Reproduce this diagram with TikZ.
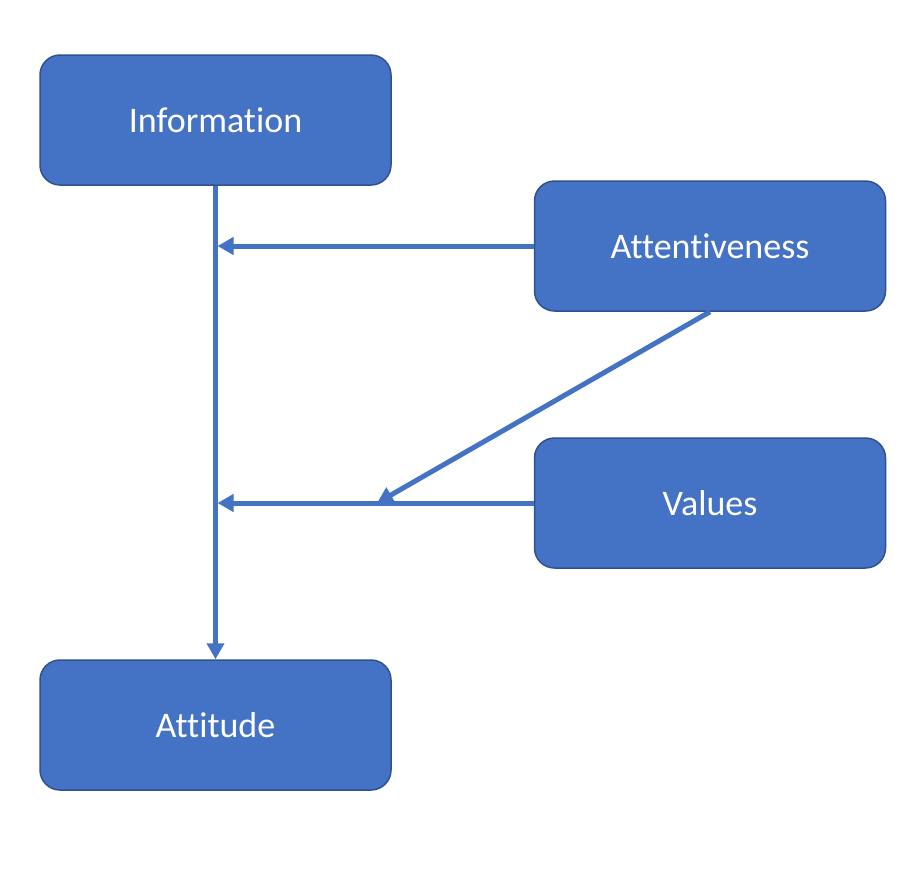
\documentclass[tikz,border=0pt]{standalone}
\usepackage{fontspec}
\setmainfont[RawFeature={-liga;-clig}]{Carlito}
\usetikzlibrary{arrows.meta}
\definecolor{boxfill}{HTML}{4472C4}
\definecolor{boxline}{HTML}{2F528F}
\definecolor{arrowc}{HTML}{4472C4}
\begin{document}
\begin{tikzpicture}[x=1pt,y=-1pt,
  box/.style={draw=boxline,line width=1.5pt,fill=boxfill,rounded corners=20pt,
    minimum width=351pt,minimum height=130pt,inner sep=0pt,
    text=white,font=\fontsize{36}{43}\selectfont},
  conn/.style={draw=arrowc,line width=5pt,-{Triangle[length=16pt,width=17pt]}}]
\useasboundingbox (0,0) rectangle (923,876);
\node[box] (info) at (215.5,120) {Information};
\node[box] (att) at (710,246) {Attentiveness};
\node[box] (val) at (710,503) {Values};
\node[box] (attd) at (215.5,725) {Attitude};
\coordinate (j1) at (217.5,246);
\coordinate (j2) at (217.5,503);
\coordinate (j3) at (377,503);
\draw[conn] (info.south) -- (attd.north);
\draw[conn] (att.west) -- (j1);
\draw[conn] (val.west) -- (j2);
\draw[conn] (att.south) -- (j3);
\end{tikzpicture}
\end{document}
